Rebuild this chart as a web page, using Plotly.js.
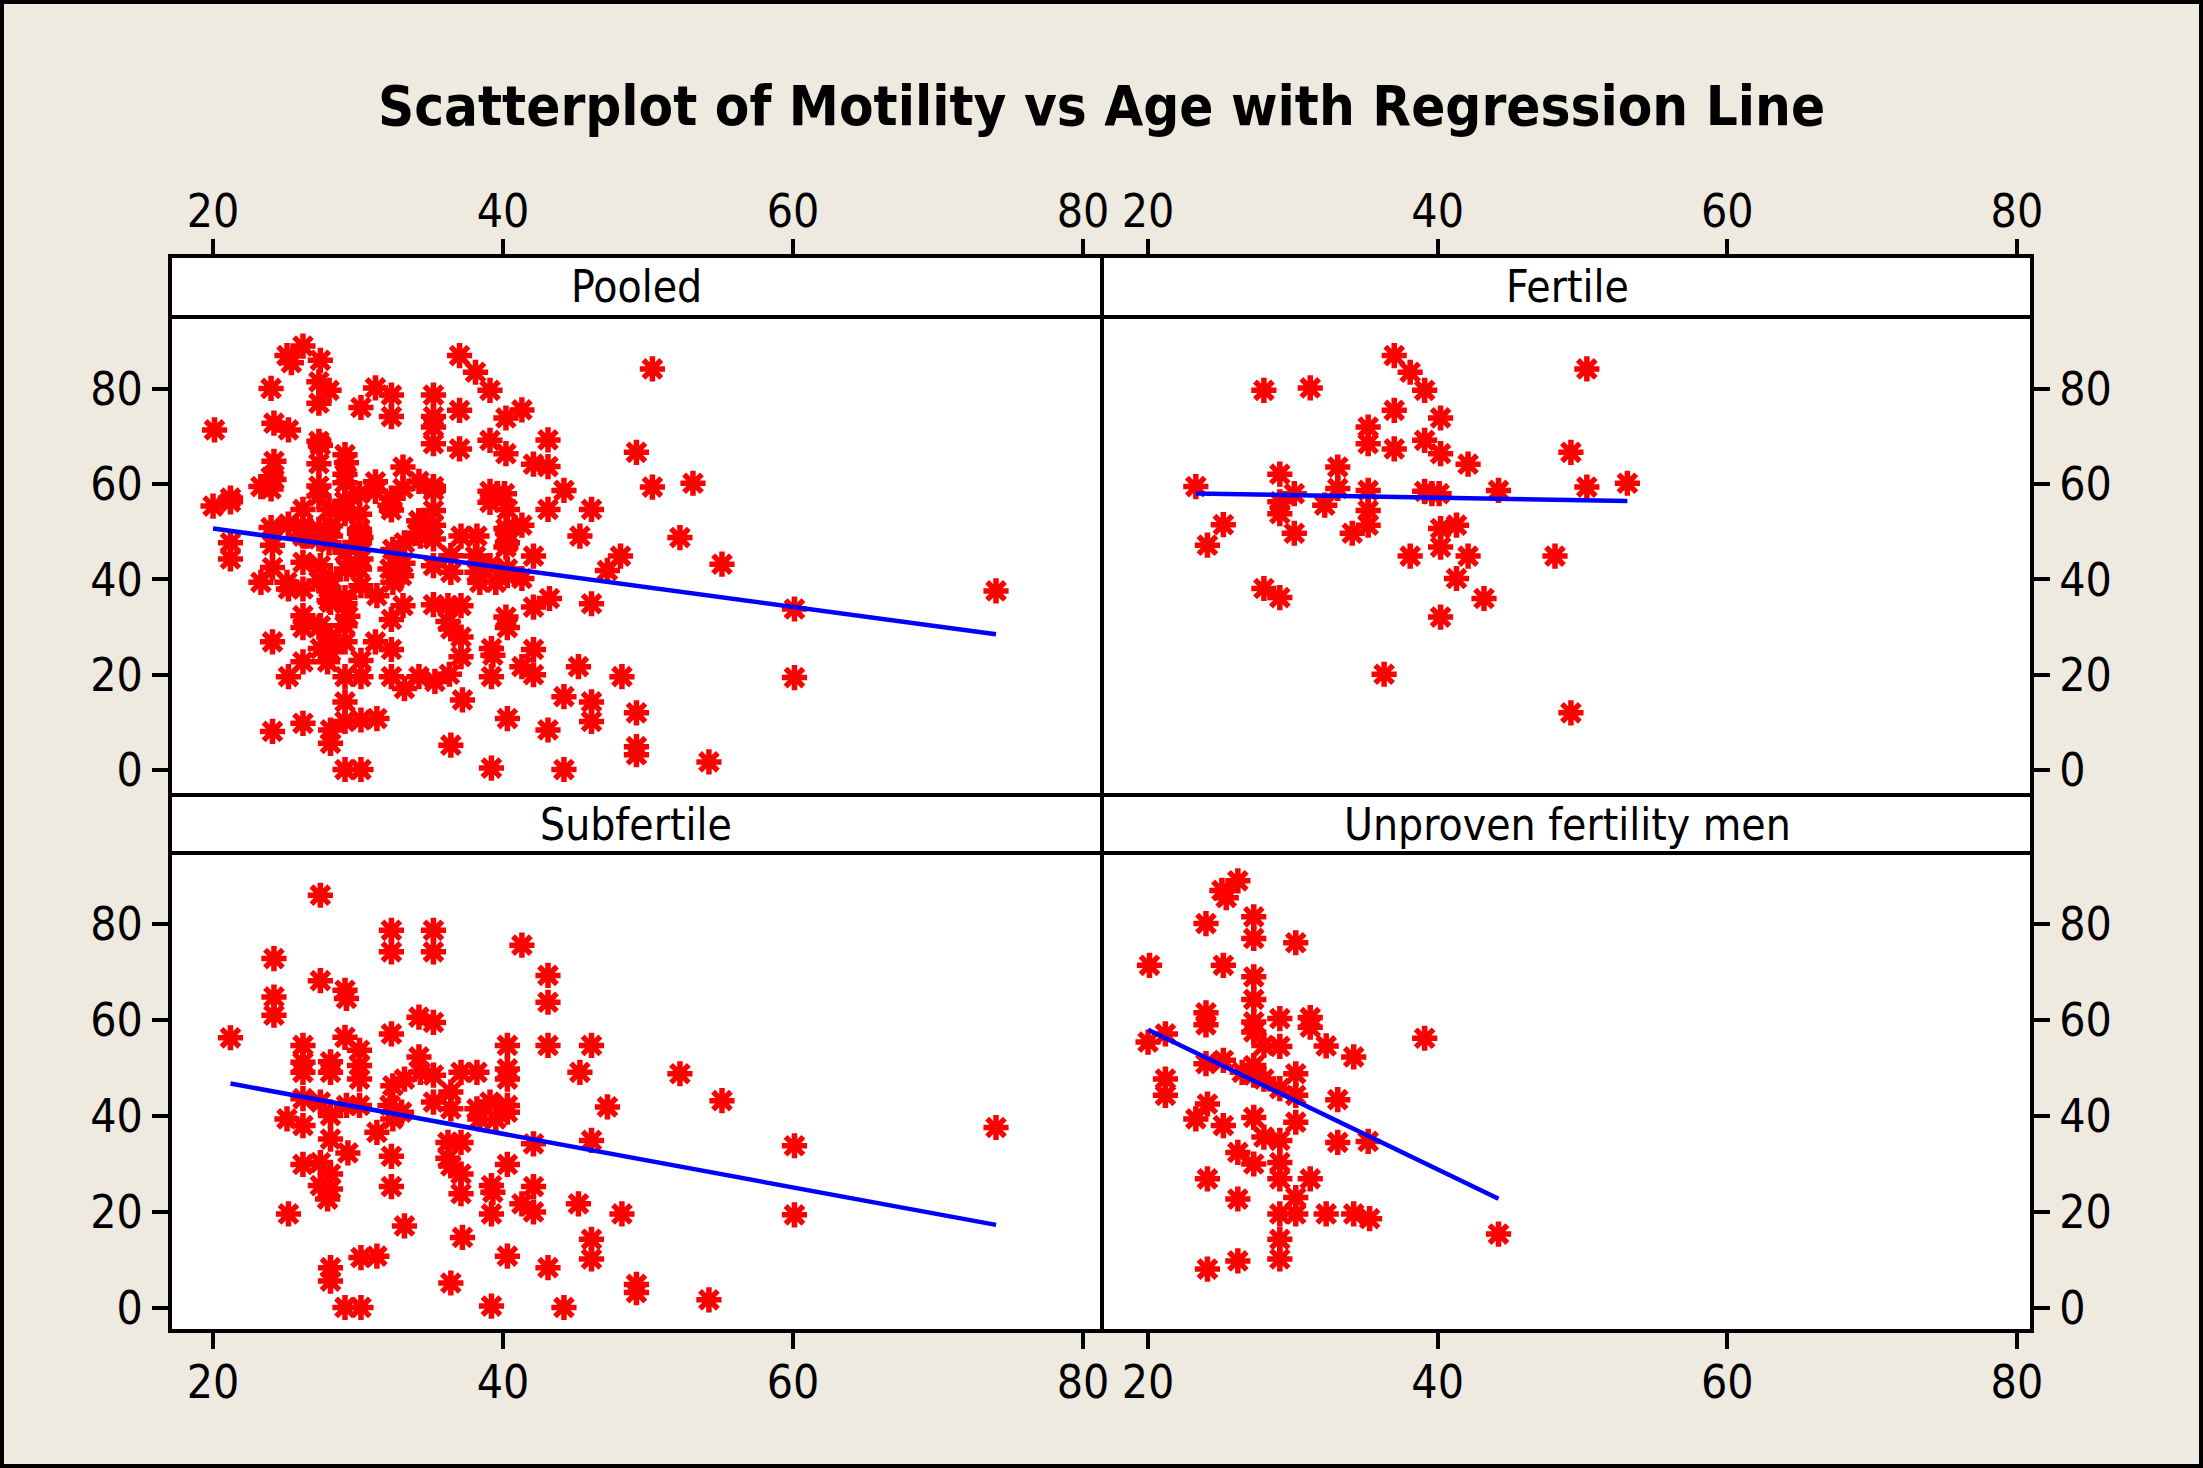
<!DOCTYPE html>
<html><head><meta charset="utf-8">
<script src="https://cdn.plot.ly/plotly-3.0.1.min.js"></script>
<style>html,body{margin:0;padding:0;background:#EEEAE0;} #chart{width:2203px;height:1468px;}</style>
</head><body><div id="chart"></div>
<script>
// ---- data ----
const panelNames = ["Pooled", "Fertile", "Subfertile", "Unproven fertility men"];
const chartTitle = "Scatterplot of Motility vs Age with Regression Line";
const xTicks = [20, 40, 60, 80];
const yTicks = [0, 20, 40, 60, 80];

const fertileAge = [23.3,25.2,24.1,28.0,31.2,29.1,29.1,30.1,29.1,30.1,28.0,29.1,33.1,33.1,32.2,35.2,35.2,35.2,35.2,35.2,34.1,37.0,38.1,39.1,37.0,40.2,37.0,39.1,40.2,42.1,39.1,39.6,40.1,44.2,50.3,49.2,50.3,53.1,38.1,40.2,41.3,40.2,42.1,41.3,43.2,40.2,36.3,48.1,49.2];
const fertileMot = [59.5,51.5,47.2,79.7,80.2,62.1,56.3,58.0,53.8,49.7,38.1,36.2,63.6,59.1,55.6,72.0,68.5,58.7,54.5,51.4,49.7,87.0,83.5,79.7,75.5,73.9,67.4,69.2,66.4,64.2,58.5,58.0,58.0,58.7,84.2,66.7,59.4,60.2,44.9,50.7,51.4,46.8,44.9,40.2,36.0,32.1,20.1,44.9,12.0];

const subfertileAge = [27.4,32.3,35.2,32.3,35.2,41.3,24.2,27.4,29.1,29.2,43.1,43.1,24.2,24.2,21.2,29.1,30.1,32.3,34.2,35.2,40.3,43.1,46.1,45.3,26.2,26.2,26.2,28.1,28.1,30.1,30.1,34.2,34.3,35.2,37.1,38.2,40.3,40.3,47.2,42.1,46.1,26.2,27.4,25.1,26.2,28.1,28.1,29.2,30.1,32.4,33.2,32.2,33.0,32.4,35.2,36.4,36.4,38.2,39.1,40.3,38.4,39.5,40.3,31.3,29.3,32.3,36.2,37.1,36.2,36.4,37.1,40.3,26.2,27.4,28.1,27.4,28.1,27.9,32.3,37.1,39.2,39.3,42.1,41.3,42.1,39.2,45.2,48.2,25.2,33.2,37.2,46.1,46.1,40.3,43.1,28.1,28.1,30.2,31.3,36.4,49.2,49.2,29.1,30.2,39.2,44.2,52.2,55.1,60.1,60.1,74.0,54.2];
const subfertileMot = [86.0,78.7,78.7,74.2,74.2,75.6,72.8,68.2,66.2,64.5,69.3,63.7,64.8,61.0,56.3,56.4,53.7,57.1,60.6,59.5,54.7,54.7,54.7,49.1,54.7,51.2,49.1,51.3,49.1,50.5,47.7,52.3,49.1,48.5,49.1,49.1,49.8,47.7,41.9,34.2,34.9,43.6,42.9,39.4,38.0,40.1,35.2,42.2,42.2,46.3,47.7,42.2,40.8,39.4,42.9,45.0,41.5,41.5,42.9,42.2,39.4,39.4,40.8,36.6,32.3,31.6,34.5,34.5,31.2,29.6,27.9,29.9,29.9,30.3,27.9,25.5,24.8,22.7,25.3,23.8,25.5,24.1,25.3,21.7,20.0,19.6,21.7,19.6,19.6,17.1,14.7,14.3,10.2,10.8,8.4,8.4,5.6,10.5,10.8,5.2,4.9,3.2,0.1,0.1,0.4,0.1,48.8,43.2,33.8,19.4,37.6,1.7];

const unprovenAge = [26.2,25.1,25.4,24.0,27.3,27.3,30.2,20.1,25.2,27.3,27.3,24.0,24.0,27.3,27.3,29.1,31.2,31.2,20.0,21.2,28.0,29.1,32.3,34.2,24.0,25.2,27.3,26.5,27.3,28.0,30.2,29.1,30.2,21.2,21.2,33.1,24.1,23.3,25.2,27.3,30.2,28.0,29.1,33.1,35.2,26.2,27.3,29.1,29.1,24.1,31.2,26.2,30.2,29.1,30.2,32.3,34.2,35.3,39.1,44.2,29.1,29.1,26.2,24.1];
const unprovenMot = [89.0,87.0,85.5,80.1,81.5,77.0,76.1,71.4,71.4,69.0,64.3,61.5,59.0,59.6,57.5,60.3,60.5,58.5,55.4,57.1,54.7,54.5,54.6,52.3,50.9,51.6,50.5,49.1,48.5,47.7,48.8,45.7,44.3,47.7,44.3,43.4,42.5,39.4,38.0,39.7,38.7,35.6,34.9,34.5,34.7,32.4,30.0,30.3,26.9,26.9,26.9,22.7,23.0,19.6,19.6,19.6,19.6,18.6,56.2,15.4,14.3,10.2,9.8,8.1];

// Pooled = all three groups together
const pooledAge = subfertileAge.concat(fertileAge, unprovenAge);
const pooledMot = subfertileMot.concat(fertileMot, unprovenMot);

// regression line coefficients (motility = a + b * age), order as panelNames
const fitIntercept = [58.9, 59.3, 58.6, 87.1];
const fitSlope = [-0.411, -0.053, -0.558, -1.456];

// ---- layout ----
const W = 2203, H = 1468;
const FONT = 'Tahoma, "DejaVu Sans Condensed", "Liberation Sans", sans-serif';
const px = v => v / W, py = v => 1 - v / H;

const colDom = [[px(170), px(1102)], [px(1102), px(2032)]];
const rowDom = [[py(795), py(317)], [py(1331), py(853)]];
const stripDom = [[py(317), py(256)], [py(853), py(795)]];
const xRanges = [[17.03, 81.31], [16.82, 81.04]];
const yRanges = [[-5.25, 95.1], [-4.8, 94.8]];

const groups = [[pooledAge, pooledMot], [fertileAge, fertileMot], [subfertileAge, subfertileMot], [unprovenAge, unprovenMot]];

const traces = [];
const layout = {
  width: W, height: H,
  margin: {l: 0, r: 0, t: 0, b: 0, pad: 0},
  paper_bgcolor: '#EEEAE0', plot_bgcolor: '#FFFFFF',
  showlegend: false,
  font: {family: FONT, color: '#000000'},
  title: {text: chartTitle, font: {family: FONT, size: 56, color: '#000000', weight: 'bold'},
          x: 0.5, xanchor: 'center', xref: 'paper', y: py(105), yanchor: 'middle', yref: 'paper'},
  shapes: [], annotations: []
};

groups.forEach((g, i) => {
  const row = Math.floor(i / 2), col = i % 2;
  const n = i + 1;
  const xa = 'x' + (n === 1 ? '' : n), ya = 'y' + (n === 1 ? '' : n);
  traces.push({type: 'scatter', mode: 'markers', x: g[0], y: g[1], xaxis: xa, yaxis: ya,
    marker: {symbol: 'asterisk-open', size: 21, color: '#FF0000', line: {color: '#FF0000', width: 5.5}}});
  const xmin = Math.min(...g[0]), xmax = Math.max(...g[0]);
  traces.push({type: 'scatter', mode: 'lines', x: [xmin, xmax],
    y: [fitIntercept[i] + fitSlope[i] * xmin, fitIntercept[i] + fitSlope[i] * xmax],
    xaxis: xa, yaxis: ya, line: {color: '#0000FF', width: 4.5}});

  const xKey = 'xaxis' + (n === 1 ? '' : n), yKey = 'yaxis' + (n === 1 ? '' : n);
  const common = {showgrid: false, zeroline: false, showline: false, ticks: 'outside', ticklen: 17, tickwidth: 4,
    tickcolor: '#000000', tickfont: {family: FONT, size: 46, color: '#000000'}};
  layout[xKey] = Object.assign({}, common, {domain: colDom[col], range: xRanges[col], tickvals: xTicks,
    ticktext: xTicks.map(String), ticklabelstandoff: -6},
    row === 0 ? {anchor: 'free', position: stripDom[0][1], side: 'top'} : {anchor: ya, side: 'bottom'});
  layout[yKey] = Object.assign({}, common, {domain: rowDom[row], range: yRanges[row], tickvals: yTicks,
    ticktext: yTicks.map(String), anchor: xa, side: col === 0 ? 'left' : 'right'});

  // strip
  layout.shapes.push({type: 'rect', xref: 'paper', yref: 'paper', x0: colDom[col][0], x1: colDom[col][1],
    y0: stripDom[row][0], y1: stripDom[row][1], fillcolor: '#FFFFFF', line: {color: '#000000', width: 4}, layer: 'below'});
  layout.shapes.push({type: 'rect', xref: 'paper', yref: 'paper', x0: colDom[col][0], x1: colDom[col][1],
    y0: stripDom[row][0], y1: stripDom[row][1], line: {color: '#000000', width: 4}, layer: 'above'});
  // panel frame
  layout.shapes.push({type: 'rect', xref: 'paper', yref: 'paper', x0: colDom[col][0], x1: colDom[col][1],
    y0: rowDom[row][0], y1: rowDom[row][1], line: {color: '#000000', width: 4}, layer: 'above'});
  layout.annotations.push({text: panelNames[i], xref: 'paper', yref: 'paper', showarrow: false,
    x: (colDom[col][0] + colDom[col][1]) / 2, y: (stripDom[row][0] + stripDom[row][1]) / 2,
    xanchor: 'center', yanchor: 'middle', font: {family: FONT, size: 44, color: '#000000'}});
});

// outer border
layout.shapes.push({type: 'rect', xref: 'paper', yref: 'paper', x0: px(2), x1: px(2201), y0: py(1466), y1: py(2),
  line: {color: '#000000', width: 4}, layer: 'above'});

Plotly.newPlot('chart', traces, layout, {staticPlot: true, displayModeBar: false});
</script>
</body></html>
